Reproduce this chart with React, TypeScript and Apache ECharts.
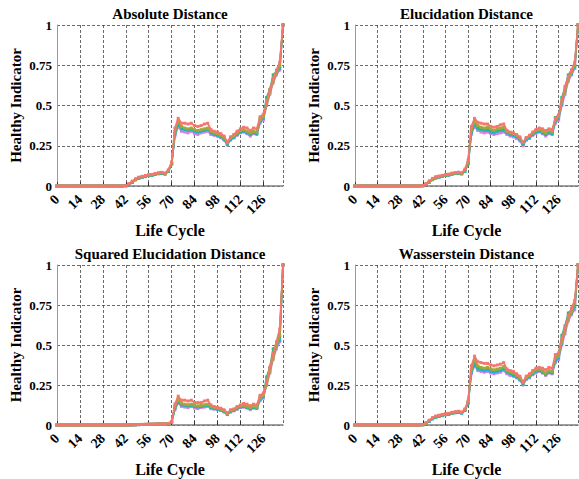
import React, { useEffect, useRef } from "react";
import * as echarts from "echarts";

const cycles = [0,2,4,6,8,10,12,14,16,18,20,22,24,26,28,30,32,34,36,38,40,42,44,46,48,50,52,54,56,58,60,62,64,66,68,70,72,74,76,78,80,82,84,86,88,90,92,94,96,98,100,102,104,106,108,110,112,114,116,118,120,122,124,126,128,130,132,134,136,138];

const panelTitles = ["Absolute Distance", "Elucidation Distance", "Squared Elucidation Distance", "Wasserstein Distance"];
const runNames = ["Run E", "Run D", "Run C", "Run B", "Run A"];
const runColors = ["#D77FE6", "#19B3E8", "#2DB87A", "#A8A63A", "#F4776E"];

// Absolute Distance
const absPurple = [0,0,0,0,0,0,0,0,0,0,0,0,0,0,0,0,0,0,0,0,0,0.001,0.01,0.025,0.04,0.05,0.055,0.06,0.065,0.067,0.073,0.077,0.079,0.075,0.092,0.138,0.31,0.37,0.34,0.335,0.33,0.34,0.325,0.32,0.33,0.335,0.34,0.32,0.315,0.31,0.3,0.285,0.255,0.285,0.3,0.315,0.33,0.335,0.325,0.31,0.325,0.32,0.39,0.41,0.5,0.57,0.64,0.69,0.72,1.0];
const absCyan = [0,0,0,0,0,0,0,0,0,0,0,0,0,0,0,0,0,0,0,0,0,0.001,0.008,0.022,0.038,0.048,0.054,0.058,0.064,0.066,0.072,0.076,0.078,0.074,0.09,0.135,0.32,0.38,0.355,0.35,0.345,0.35,0.34,0.335,0.34,0.345,0.35,0.33,0.32,0.315,0.305,0.29,0.26,0.29,0.3,0.32,0.335,0.34,0.33,0.325,0.33,0.325,0.4,0.42,0.51,0.59,0.66,0.7,0.73,1.0];
const absGreen = [0,0,0,0,0,0,0,0,0,0,0,0,0,0,0,0,0,0,0,0,0,0.002,0.01,0.025,0.04,0.05,0.056,0.06,0.066,0.068,0.074,0.078,0.08,0.076,0.092,0.14,0.33,0.39,0.36,0.355,0.35,0.355,0.345,0.34,0.345,0.35,0.355,0.335,0.325,0.32,0.31,0.295,0.265,0.295,0.305,0.325,0.34,0.345,0.335,0.32,0.335,0.33,0.42,0.435,0.55,0.6,0.69,0.71,0.74,1.0];
const absOlive = [0,0,0,0,0,0,0,0,0,0,0,0,0,0,0,0,0,0,0,0,0,0.002,0.012,0.028,0.042,0.052,0.058,0.062,0.068,0.07,0.075,0.08,0.082,0.078,0.095,0.14,0.34,0.4,0.37,0.36,0.355,0.36,0.35,0.345,0.35,0.355,0.36,0.34,0.33,0.325,0.315,0.3,0.27,0.3,0.31,0.33,0.345,0.35,0.34,0.33,0.34,0.335,0.41,0.43,0.5,0.58,0.65,0.7,0.75,1.0];
const absRed = [0,0,0,0,0,0,0,0,0,0,0,0,0,0,0,0,0,0,0,0,0,0.003,0.015,0.03,0.045,0.055,0.06,0.065,0.07,0.072,0.078,0.082,0.085,0.08,0.1,0.15,0.36,0.42,0.39,0.39,0.385,0.39,0.375,0.37,0.375,0.385,0.39,0.35,0.34,0.335,0.325,0.31,0.275,0.305,0.32,0.34,0.355,0.365,0.36,0.345,0.36,0.355,0.43,0.445,0.52,0.6,0.67,0.72,0.77,1.0];

// Elucidation Distance
const eluPurple = [0,0,0,0,0,0,0,0,0,0,0,0,0,0,0,0,0,0,0,0,0,0.001,0.011,0.026,0.041,0.051,0.056,0.061,0.066,0.068,0.074,0.078,0.08,0.076,0.093,0.14,0.32,0.37,0.345,0.335,0.33,0.335,0.325,0.32,0.325,0.33,0.335,0.32,0.31,0.305,0.295,0.28,0.25,0.285,0.295,0.315,0.325,0.335,0.325,0.31,0.325,0.32,0.39,0.41,0.5,0.57,0.65,0.69,0.73,1.0];
const eluCyan = [0,0,0,0,0,0,0,0,0,0,0,0,0,0,0,0,0,0,0,0,0,0.001,0.009,0.023,0.039,0.049,0.055,0.059,0.065,0.067,0.073,0.077,0.079,0.075,0.091,0.137,0.33,0.38,0.355,0.35,0.345,0.345,0.335,0.33,0.34,0.345,0.345,0.33,0.32,0.315,0.305,0.29,0.258,0.29,0.3,0.32,0.335,0.34,0.33,0.325,0.33,0.325,0.4,0.42,0.51,0.59,0.67,0.7,0.74,1.0];
const eluGreen = [0,0,0,0,0,0,0,0,0,0,0,0,0,0,0,0,0,0,0,0,0,0.002,0.011,0.026,0.041,0.051,0.057,0.061,0.067,0.069,0.075,0.079,0.081,0.077,0.093,0.142,0.34,0.39,0.365,0.355,0.35,0.355,0.345,0.34,0.345,0.35,0.355,0.335,0.325,0.32,0.31,0.295,0.265,0.295,0.305,0.325,0.34,0.345,0.335,0.32,0.335,0.33,0.425,0.44,0.55,0.61,0.69,0.72,0.75,1.0];
const eluOlive = [0,0,0,0,0,0,0,0,0,0,0,0,0,0,0,0,0,0,0,0,0,0.003,0.013,0.029,0.043,0.053,0.059,0.063,0.069,0.071,0.076,0.081,0.083,0.079,0.097,0.145,0.35,0.4,0.375,0.365,0.36,0.365,0.355,0.345,0.355,0.36,0.365,0.34,0.33,0.325,0.315,0.3,0.27,0.3,0.31,0.33,0.345,0.35,0.34,0.33,0.345,0.335,0.41,0.43,0.52,0.59,0.66,0.71,0.75,1.0];
const eluRed = [0,0,0,0,0,0,0,0,0,0,0,0,0,0,0,0,0,0,0,0,0,0.004,0.016,0.032,0.047,0.058,0.062,0.066,0.071,0.074,0.08,0.083,0.086,0.082,0.105,0.16,0.37,0.42,0.395,0.39,0.385,0.385,0.37,0.365,0.37,0.38,0.385,0.345,0.335,0.33,0.32,0.305,0.27,0.3,0.315,0.335,0.35,0.36,0.355,0.345,0.355,0.35,0.42,0.44,0.53,0.62,0.68,0.72,0.77,1.0];

// Squared Elucidation Distance
const sqPurple = [0,0,0,0,0,0,0,0,0,0,0,0,0,0,0,0,0,0,0,0,0,0,0.0001,0.0006,0.0016,0.0025,0.003,0.0036,0.0042,0.0045,0.0053,0.0059,0.0062,0.0056,0.0085,0.019,0.096,0.137,0.116,0.112,0.109,0.116,0.106,0.102,0.109,0.112,0.116,0.102,0.099,0.096,0.09,0.081,0.065,0.081,0.09,0.099,0.109,0.112,0.106,0.096,0.106,0.102,0.152,0.168,0.25,0.325,0.41,0.476,0.52,1.0];
const sqCyan = [0,0,0,0,0,0,0,0,0,0,0,0,0,0,0,0,0,0,0,0,0,0,0.0001,0.0005,0.0014,0.0023,0.0029,0.0034,0.0041,0.0044,0.0052,0.0058,0.0061,0.0055,0.0081,0.018,0.102,0.144,0.126,0.123,0.119,0.123,0.116,0.112,0.116,0.119,0.123,0.109,0.102,0.099,0.093,0.084,0.068,0.084,0.09,0.102,0.112,0.116,0.109,0.106,0.109,0.106,0.16,0.176,0.26,0.35,0.436,0.49,0.53,1.0];
const sqGreen = [0,0,0,0,0,0,0,0,0,0,0,0,0,0,0,0,0,0,0,0,0,0,0.0001,0.0006,0.0016,0.0025,0.0031,0.0036,0.0044,0.0046,0.0055,0.0061,0.0064,0.0058,0.0085,0.02,0.109,0.152,0.13,0.126,0.123,0.126,0.119,0.116,0.119,0.123,0.126,0.112,0.106,0.102,0.096,0.087,0.07,0.087,0.093,0.106,0.116,0.119,0.112,0.102,0.112,0.109,0.176,0.19,0.3,0.36,0.476,0.5,0.55,1.0];
const sqOlive = [0,0,0,0,0,0,0,0,0,0,0,0,0,0,0,0,0,0,0,0,0,0,0.0001,0.0008,0.0018,0.0027,0.0034,0.0038,0.0046,0.0049,0.0056,0.0064,0.0067,0.0061,0.009,0.02,0.116,0.16,0.137,0.13,0.126,0.13,0.123,0.119,0.123,0.126,0.13,0.116,0.109,0.106,0.099,0.09,0.073,0.09,0.096,0.109,0.119,0.123,0.116,0.109,0.116,0.112,0.168,0.185,0.25,0.336,0.42,0.49,0.56,1.0];
const sqRed = [0,0,0,0,0,0,0,0,0,0,0,0,0,0,0,0,0,0,0,0,0,0,0.0002,0.001,0.002,0.003,0.004,0.004,0.005,0.005,0.006,0.007,0.007,0.006,0.01,0.022,0.13,0.18,0.155,0.155,0.15,0.155,0.14,0.14,0.14,0.15,0.155,0.125,0.115,0.11,0.105,0.095,0.075,0.095,0.1,0.115,0.125,0.135,0.13,0.12,0.13,0.125,0.185,0.2,0.27,0.36,0.45,0.52,0.6,1.0];

// Wasserstein Distance
const wasPurple = [0,0,0,0,0,0,0,0,0,0,0,0,0,0,0,0,0,0,0,0,0,0.001,0.01,0.025,0.04,0.05,0.055,0.06,0.065,0.067,0.073,0.077,0.079,0.075,0.092,0.138,0.32,0.37,0.34,0.335,0.33,0.335,0.325,0.32,0.325,0.33,0.34,0.32,0.31,0.305,0.295,0.28,0.25,0.285,0.295,0.315,0.325,0.335,0.325,0.31,0.325,0.32,0.39,0.41,0.5,0.57,0.65,0.69,0.72,1.0];
const wasCyan = [0,0,0,0,0,0,0,0,0,0,0,0,0,0,0,0,0,0,0,0,0,0.001,0.008,0.023,0.038,0.048,0.054,0.058,0.064,0.066,0.072,0.076,0.078,0.074,0.09,0.136,0.33,0.38,0.35,0.345,0.34,0.345,0.335,0.33,0.335,0.34,0.35,0.33,0.32,0.31,0.3,0.285,0.255,0.29,0.3,0.32,0.335,0.34,0.33,0.32,0.33,0.325,0.4,0.42,0.51,0.6,0.67,0.7,0.74,1.0];
const wasGreen = [0,0,0,0,0,0,0,0,0,0,0,0,0,0,0,0,0,0,0,0,0,0.002,0.01,0.026,0.041,0.051,0.056,0.061,0.066,0.068,0.074,0.078,0.081,0.076,0.093,0.14,0.34,0.39,0.36,0.355,0.35,0.355,0.345,0.34,0.345,0.35,0.355,0.335,0.325,0.315,0.305,0.29,0.26,0.29,0.305,0.325,0.34,0.345,0.335,0.315,0.335,0.33,0.42,0.44,0.56,0.62,0.7,0.72,0.75,1.0];
const wasOlive = [0,0,0,0,0,0,0,0,0,0,0,0,0,0,0,0,0,0,0,0,0,0.002,0.012,0.028,0.043,0.053,0.058,0.063,0.068,0.07,0.076,0.08,0.083,0.078,0.096,0.145,0.35,0.41,0.37,0.36,0.355,0.36,0.35,0.345,0.35,0.355,0.365,0.34,0.33,0.325,0.31,0.295,0.265,0.295,0.31,0.33,0.345,0.35,0.34,0.325,0.34,0.335,0.42,0.43,0.52,0.59,0.66,0.71,0.76,1.0];
const wasRed = [0,0,0,0,0,0,0,0,0,0,0,0,0,0,0,0,0,0,0,0,0,0.003,0.014,0.03,0.046,0.056,0.061,0.066,0.07,0.073,0.079,0.083,0.086,0.081,0.1,0.15,0.37,0.43,0.395,0.39,0.385,0.385,0.375,0.37,0.375,0.38,0.39,0.35,0.34,0.335,0.32,0.305,0.27,0.305,0.32,0.34,0.355,0.36,0.355,0.345,0.36,0.355,0.44,0.45,0.54,0.61,0.68,0.73,0.78,1.0];

const panelSeries = [
  [absPurple, absCyan, absGreen, absOlive, absRed],
  [eluPurple, eluCyan, eluGreen, eluOlive, eluRed],
  [sqPurple, sqCyan, sqGreen, sqOlive, sqRed],
  [wasPurple, wasCyan, wasGreen, wasOlive, wasRed],
];

const FONT = "'Liberation Serif', 'Times New Roman', serif";

const gridBoxes = [
  { left: 57, top: 25, width: 226, height: 161 },
  { left: 355, top: 25, width: 223, height: 161 },
  { left: 57, top: 265, width: 226, height: 160 },
  { left: 355, top: 265, width: 223, height: 160 },
];

export default function App() {
  const ref = useRef<HTMLDivElement>(null);
  useEffect(() => {
    document.body.style.margin = "0";
    const chart = echarts.init(ref.current!, null, { renderer: "svg" });
    const grids = gridBoxes.map((g) => ({ ...g, containLabel: false }));
    const titles = gridBoxes.map((g, i) => ({
      text: panelTitles[i],
      left: g.left + g.width / 2,
      top: g.top - 19,
      textAlign: "center",
      padding: 0,
      textStyle: { fontFamily: FONT, fontWeight: "bold", fontSize: 15, color: "#000" },
    }));
    const xAxes = gridBoxes.map((_, i) => ({
      type: "value",
      gridIndex: i,
      min: 0,
      max: 138,
      interval: 14,
      name: "Life Cycle",
      nameLocation: "middle",
      nameGap: 36,
      nameTextStyle: { fontFamily: FONT, fontWeight: "bold", fontSize: 16, color: "#000" },
      axisLine: { show: true, lineStyle: { color: "#808080", width: 1.5 } },
      axisTick: { show: true, inside: true, length: 4, lineStyle: { color: "#333", width: 1 } },
      axisLabel: {
        rotate: 45,
        margin: 11,
        showMaxLabel: false,
        fontFamily: FONT,
        fontWeight: "bold",
        fontSize: 14,
        color: "#000",
      },
      splitLine: { show: true, lineStyle: { color: "#444", type: [3, 2], width: 0.8 } },
    }));
    const yAxes = gridBoxes.map((_, i) => ({
      type: "value",
      gridIndex: i,
      min: 0,
      max: 1,
      interval: 0.25,
      name: "Healthy Indicator",
      nameLocation: "middle",
      nameGap: 34,
      nameTextStyle: { fontFamily: FONT, fontWeight: "bold", fontSize: 15, color: "#000" },
      axisLine: { show: true, lineStyle: { color: "#999", width: 1 } },
      axisTick: { show: false },
      axisLabel: { margin: 5, fontFamily: FONT, fontWeight: "bold", fontSize: 13, color: "#000" },
      splitLine: { show: true, lineStyle: { color: "#444", type: [3, 2], width: 0.8 } },
    }));
    const series: any[] = [];
    panelSeries.forEach((group, p) => {
      group.forEach((vals, k) => {
        series.push({
          type: "line",
          name: runNames[k],
          xAxisIndex: p,
          yAxisIndex: p,
          data: cycles.map((c, j) => [c, vals[j]]),
          showSymbol: true,
          symbol: "rect",
          symbolSize: 3,
          itemStyle: { color: runColors[k] },
          lineStyle: { color: runColors[k], width: 1.8 },
          z: 2 + k,
        });
      });
    });
    chart.setOption({
      animation: false,
      backgroundColor: "#fff",
      title: titles,
      grid: grids,
      xAxis: xAxes,
      yAxis: yAxes,
      series,
    });
    return () => chart.dispose();
  }, []);
  return <div ref={ref} style={{ position: "fixed", left: 0, top: 0, width: 579, height: 479 }} />;
}
